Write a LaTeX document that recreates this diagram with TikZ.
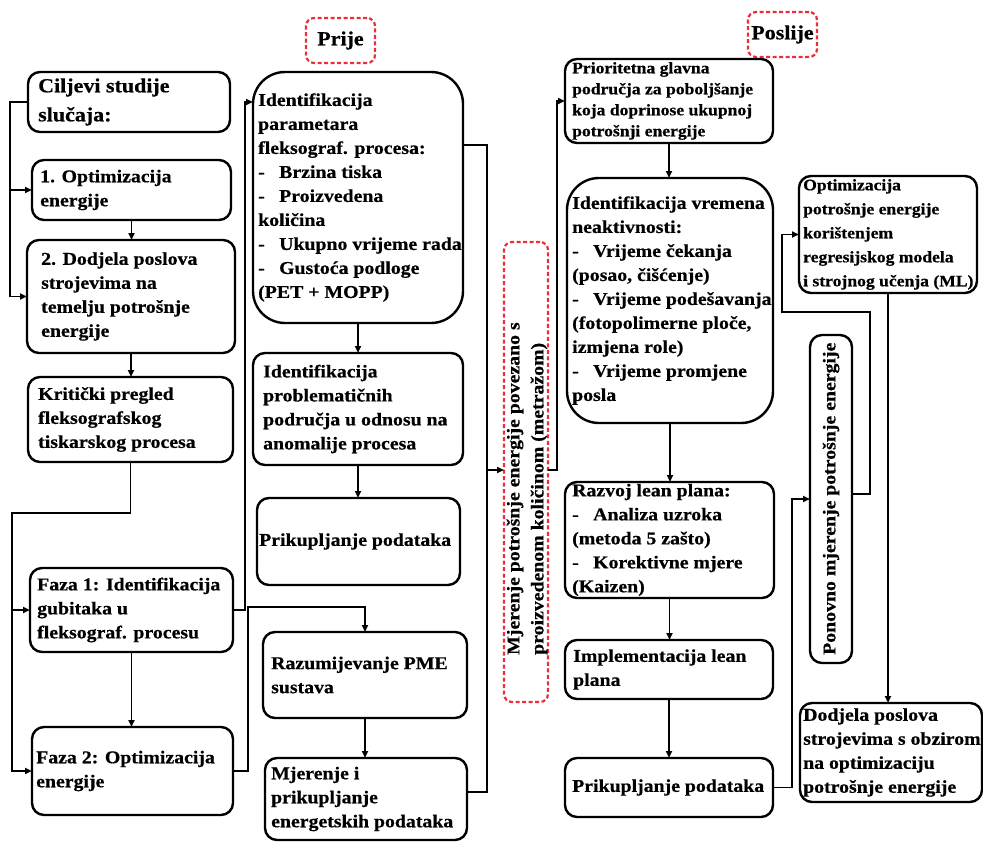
\documentclass[tikz,border=0pt]{standalone}
\usepackage{fontspec}
\newfontfamily\tnr{Liberation Serif}[FakeStretch=1.1, BoldFeatures={FakeBold=0.6}]
\usetikzlibrary{arrows.meta}
\definecolor{dred}{RGB}{235,45,60}
\begin{document}
\begin{tikzpicture}[x=1pt,y=-1pt,
 box/.style={draw, line width=2.4pt, rounded corners=12pt, inner sep=0pt, outer sep=0pt},
 bigbox/.style={box, rounded corners=32pt},
 dbox/.style={draw=dred, line width=2.2pt, dash pattern=on 4pt off 2.5pt, rounded corners=8pt, inner sep=0pt, outer sep=0pt, font=\tnr\bfseries\fontsize{20}{24}\selectfont},
 tx/.style={inner sep=0pt, align=left, anchor=west, font=\tnr\bfseries\fontsize{18}{24}\selectfont},
 txs/.style={tx, font=\tnr\bfseries\fontsize{16}{21}\selectfont},
 txm/.style={tx, font=\tnr\bfseries\fontsize{16}{24}\selectfont},
 txl/.style={tx, font=\tnr\bfseries\fontsize{20}{29}\selectfont},
 arr/.style={line width=1.9pt, -{Triangle[length=7pt,width=6pt]}},
 ln/.style={line width=1.9pt}]
\useasboundingbox (0,0) rectangle (983,843);
\newcommand\bl{-\hspace{0.8em}}
% ---------- left column
\node[box, minimum width=202pt, minimum height=60pt] (cil) at (129,102) {};
\node[txl] (tcil) at ([xshift=10pt]cil.west) {Ciljevi studije\\slučaja:};
\node[box, minimum width=199pt, minimum height=60pt] (opt1) at (131.5,190) {};
\node[tx] (topt1) at ([xshift=8pt]opt1.west) {1. Optimizacija\\energije};
\node[box, minimum width=208pt, minimum height=113pt] (dod) at (131,296.5) {};
\node[tx] (tdod) at ([xshift=14pt]dod.west) {2. Dodjela poslova\\strojevima na\\temelju potrošnje\\energije};
\node[box, minimum width=205pt, minimum height=85pt] (krit) at (130.5,419.5) {};
\node[tx] (tkrit) at ([xshift=10pt]krit.west) {Kritički pregled\\fleksografskog\\tiskarskog procesa};
\node[box, minimum width=203pt, minimum height=84pt] (faza1) at (131.5,610) {};
\node[tx] (tfaza1) at ([xshift=7pt]faza1.west) {Faza 1: Identifikacija\\gubitaka u\\fleksograf. procesu};
\node[box, minimum width=201pt, minimum height=88pt] (faza2) at (132.5,771) {};
\node[tx] (tfaza2) at ([xshift=4pt]faza2.west) {Faza 2: Optimizacija\\energije};
% ---------- middle column
\node[dbox, minimum width=69pt, minimum height=45pt] (prije) at (340.5,40.5) {Prije};
\node[bigbox, minimum width=210pt, minimum height=251pt] (param) at (358,197.5) {};
\node[tx] (tparam) at ([xshift=5pt]param.west) {Identifikacija\\parametara\\fleksograf. procesa:\\\bl Brzina tiska\\\bl Proizvedena\\količina\\\bl Ukupno vrijeme rada\\\bl Gustoća podloge\\(PET + MOPP)};
\node[box, minimum width=210pt, minimum height=112pt] (probl) at (358,409) {};
\node[tx] (tprobl) at ([xshift=10pt]probl.west) {Identifikacija\\problematičnih\\područja u odnosu na\\anomalije procesa};
\node[box, minimum width=203pt, minimum height=87pt] (prik1) at (358.5,541.5) {};
\node[tx] (tprik1) at ([xshift=2pt]prik1.west) {Prikupljanje podataka};
\node[box, minimum width=204pt, minimum height=86pt] (razum) at (365,675) {};
\node[tx] (trazum) at ([xshift=8pt]razum.west) {Razumijevanje PME\\sustava};
\node[box, minimum width=202pt, minimum height=82pt] (mjer) at (366,799) {};
\node[tx] (tmjer) at ([xshift=6pt]mjer.west) {Mjerenje i\\prikupljanje\\energetskih podataka};
\node[dbox, minimum width=44pt, minimum height=460pt] (mjdash) at (526,472) {};
\node[tx, rotate=90] (tmjdash) at (527,655) {Mjerenje potrošnje energije povezano s\\proizvedenom količinom (metražom)};
% ---------- right column
\node[dbox, minimum width=69pt, minimum height=45pt] (poslije) at (782.5,34.5) {Poslije};
\node[box, minimum width=208pt, minimum height=84pt] (prior) at (669,101) {};
\node[txs] (tprior) at ([xshift=7pt]prior.west) {Prioritetna glavna\\područja za poboljšanje\\koja doprinose ukupnoj\\potrošnji energije};
\node[bigbox, minimum width=206pt, minimum height=245pt] (neakt) at (670,300.5) {};
\node[tx] (tneakt) at ([xshift=5pt]neakt.west) {Identifikacija vremena\\neaktivnosti:\\\bl Vrijeme čekanja\\(posao, čišćenje)\\\bl Vrijeme podešavanja\\(fotopolimerne ploče,\\izmjena role)\\\bl Vrijeme promjene\\posla};
\node[box, minimum width=209pt, minimum height=116pt] (razvoj) at (669.5,540) {};
\node[tx] (trazvoj) at ([xshift=7pt]razvoj.west) {Razvoj lean plana:\\\bl Analiza uzroka\\(metoda 5 zašto)\\\bl Korektivne mjere\\(Kaizen)};
\node[box, minimum width=208pt, minimum height=59pt] (impl) at (669,669.5) {};
\node[tx] (timpl) at ([xshift=8pt]impl.west) {Implementacija lean\\plana};
\node[box, minimum width=208pt, minimum height=59pt] (prik2) at (669,787.5) {};
\node[tx] (tprik2) at ([xshift=7pt]prik2.west) {Prikupljanje podataka};
\node[box, minimum width=42pt, minimum height=328pt] (ponov) at (831,499) {};
\node[tx, rotate=90] (tponov) at (831,655) {Ponovno mjerenje potrošnje energije};
\node[box, minimum width=178pt, minimum height=117pt] (optml) at (888,234.5) {};
\node[txm] (toptml) at ([xshift=4pt]optml.west) {Optimizacija\\potrošnje energije\\korištenjem\\regresijskog modela\\i strojnog učenja (ML)};
\node[box, minimum width=182pt, minimum height=99pt] (dodj2) at (891,752.5) {};
\node[tx] (tdodj2) at ([xshift=3pt]dodj2.west) {Dodjela poslova\\strojevima s obzirom\\na optimizaciju\\potrošnje energije};
% ---------- connectors
\coordinate (lx) at (10,0);
\draw[arr] (cil.west) -| (lx |- dod.west) -- (dod.west);
\draw[arr] (lx |- opt1.west) -- (opt1.west);
\draw[arr] (opt1.south) -- (opt1.south |- dod.north);
\draw[arr] (dod.south) -- (dod.south |- krit.north);
\coordinate (kj) at (12,513);
\draw[arr] (krit.south) |- (kj) |- (faza2.west);
\draw[arr] (kj |- faza1.west) -- (faza1.west);
\draw[arr] (faza1.south) -- (faza1.south |- faza2.north);
\coordinate (c1) at (245,102);
\coordinate (pin) at (253,102);
\draw[arr] (faza1.east) -| (c1) -- (pin);
\coordinate (c2) at (248,607);
\draw[arr] (faza2.east) -| (c2) -| (razum.north);
\draw[arr] (param.south) -- (param.south |- probl.north);
\draw[arr] (probl.south) -- (probl.south |- prik1.north);
\draw[arr] (razum.south) -- (razum.south |- mjer.north);
\coordinate (pout) at (463,145);
\coordinate (jm) at (487,470);
\draw[arr] (pout) -| (jm) -- (jm -| mjdash.west);
\draw[ln] ([yshift=7pt]mjer.east) -| (jm);
\draw[arr] (jm -| mjdash.east) -- ++(9,0) |- (prior.west);
\draw[arr] (prior.south) -- (prior.south |- neakt.north);
\draw[arr] (neakt.south) -- (neakt.south |- razvoj.north);
\draw[arr] (razvoj.south) -- (razvoj.south |- impl.north);
\draw[arr] (impl.south) -- (impl.south |- prik2.north);
\draw[arr] (prik2.east) -- ++(19,0) |- (ponov.west);
\coordinate (r1) at (870,312);
\coordinate (r2) at (782,312);
\draw[arr] ([yshift=5pt]ponov.east) -| (r1) -- (r2) |- (optml.west);
\draw[arr] (optml.south) -- (optml.south |- dodj2.north);
\end{tikzpicture}
\end{document}
